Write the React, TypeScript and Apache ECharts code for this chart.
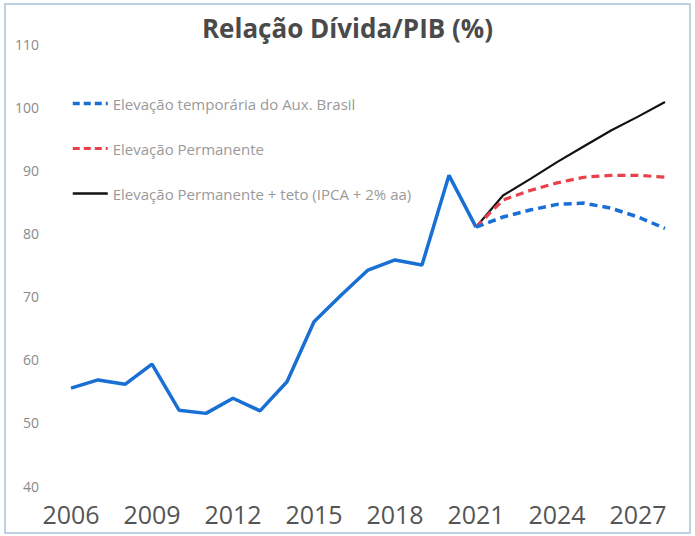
import React, { useEffect, useRef } from "react";
import * as echarts from "echarts";

const years = [
  "2006","2007","2008","2009","2010","2011","2012","2013","2014","2015","2016",
  "2017","2018","2019","2020","2021","2022","2023","2024","2025","2026","2027","2028",
];
const historico = [55.5, 56.8, 56.1, 59.3, 52.0, 51.5, 53.9, 51.9, 56.5, 66.0, 70.2, 74.2, 75.8, 75.0, 89.2, 81.0];
const temporaria = [81.0, 82.6, 83.7, 84.6, 84.8, 84.0, 82.6, 80.8];
const permanente = [81.0, 85.3, 86.8, 88.0, 88.9, 89.2, 89.2, 88.9];
const permanenteTeto = [81.0, 86.0, 88.6, 91.3, 93.8, 96.3, 98.5, 100.8];
const legendNames = [
  "Elevação temporária do Aux. Brasil",
  "Elevação Permanente",
  "Elevação Permanente + teto (IPCA + 2% aa)",
];
const titleText = "Relação Dívida/PIB (%)";

const pad = (arr: number[]) => {
  const out: (number | null)[] = years.map(() => null);
  const start = years.length - arr.length;
  arr.forEach((v, i) => (out[start + i] = v));
  return out;
};

export default function App() {
  const ref = useRef<HTMLDivElement>(null);
  useEffect(() => {
    const chart = echarts.init(ref.current!, undefined, { renderer: "svg" });
    const blue = "#1a6fd4";
    const red = "#e8414b";
    const black = "#111111";
    chart.setOption({
      animation: false,
      backgroundColor: "#ffffff",
      textStyle: { fontFamily: "Open Sans" },
      title: {
        text: titleText,
        left: "center",
        top: 10,
        textStyle: { fontSize: 26, fontWeight: "bold", color: "#4a4a4a", fontFamily: "Open Sans" },
      },
      legend: {
        data: [
          { name: legendNames[0], lineStyle: { color: blue, width: 3.5, type: [7, 4] } },
          { name: legendNames[1], lineStyle: { color: red, width: 3.2, type: [7, 4] } },
          { name: legendNames[2], lineStyle: { color: black, width: 2.5 } },
        ],
        orient: "vertical",
        left: 66,
        top: 91,
        itemGap: 30,
        itemWidth: 35,
        itemHeight: 18,
        itemStyle: { opacity: 0 },
        textStyle: { fontSize: 15, color: "#9a9a9a", fontFamily: "Open Sans" },
      },
      grid: { left: 71, right: 30, top: 44, bottom: 50 },
      xAxis: {
        type: "category",
        data: years,
        boundaryGap: false,
        axisLine: { show: false },
        axisTick: { show: false },
        axisLabel: { interval: 2, fontSize: 25, color: "#555555", margin: 15, fontFamily: "Open Sans" },
      },
      yAxis: {
        type: "value",
        min: 40,
        max: 110,
        interval: 10,
        splitLine: { show: false },
        axisLine: { show: false },
        axisLabel: { fontSize: 14, color: "#8a8a8a", margin: 32, fontFamily: "Open Sans" },
      },
      graphic: [
        {
          type: "rect",
          shape: { x: 5, y: 4, width: 685, height: 529 },
          style: { fill: "none", stroke: "#a9c3dc", lineWidth: 1.5 },
          silent: true,
        },
      ],
      series: [
        {
          name: "historico",
          type: "line",
          data: historico,
          symbol: "none",
          lineStyle: { color: blue, width: 3.5 },
          itemStyle: { color: blue },
        },
        {
          name: legendNames[2],
          type: "line",
          data: pad(permanenteTeto),
          symbol: "none",
          lineStyle: { color: black, width: 2.2 },
          itemStyle: { color: black },
        },
        {
          name: legendNames[1],
          type: "line",
          data: pad(permanente),
          symbol: "none",
          lineStyle: { color: red, width: 3.2, type: [8, 5] },
          itemStyle: { color: red },
        },
        {
          name: legendNames[0],
          type: "line",
          data: pad(temporaria),
          symbol: "none",
          lineStyle: { color: blue, width: 3.5, type: [8, 5] },
          itemStyle: { color: blue },
        },
      ],
    });
    return () => chart.dispose();
  }, []);
  return (
    <div
      ref={ref}
      style={{ position: "absolute", left: 0, top: 0, width: 695, height: 536 }}
    />
  );
}
